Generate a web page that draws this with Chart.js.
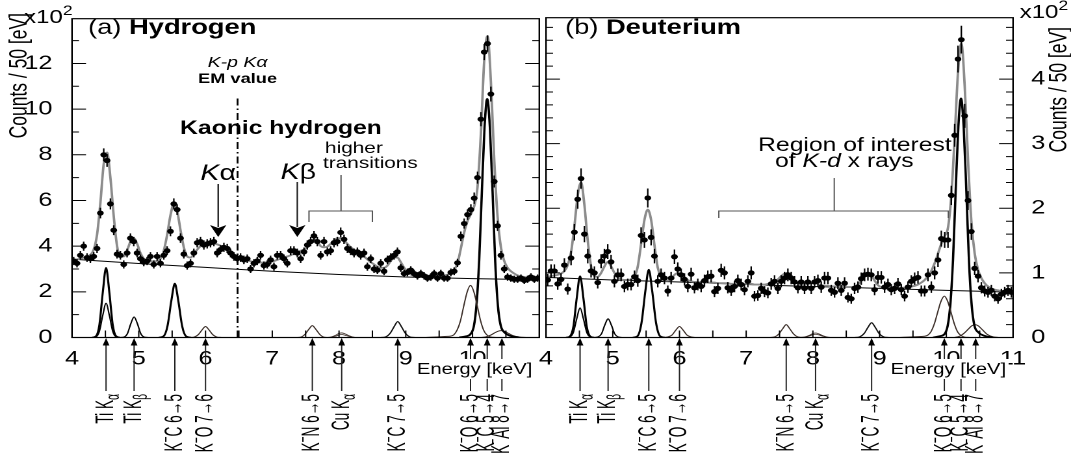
<!DOCTYPE html>
<html><head><meta charset="utf-8">
<script src="https://cdn.jsdelivr.net/npm/chart.js@4.4.1/dist/chart.umd.min.js"></script>
<style>
html,body{margin:0;padding:0;background:#fff;width:1071px;height:461px;overflow:hidden}
#wrap{position:relative;width:1071px;height:461px}
canvas{position:absolute;left:0;top:0;width:1071px !important;height:461px !important}
</style></head><body>
<div id="wrap"><canvas id="cH" width="824" height="461"></canvas><canvas id="cD" width="824" height="461"></canvas></div>
<script>
// ---------------- DATA ----------------
const binStart = 4.025, binWidth = 0.05;   // keV, 50 eV bins
const hydrogenCounts = [ // x10^2 counts / 50 eV
  3.35, 3.25, 3.6, 4.0, 3.5, 3.45, 3.55, 3.9, 5.45, 8.0,
  7.75, 5.85, 4.7, 3.65, 3.6, 3.2, 3.7, 4.35, 4.2, 3.7,
  3.45, 3.3, 3.35, 3.55, 3.2, 3.55, 3.25, 3.6, 3.8, 4.65,
  5.85, 5.6, 4.35, 3.65, 3.15, 3.25, 3.7, 4.15, 4.2, 4.05,
  4.1, 4.15, 4.2, 3.7, 3.85, 3.95, 3.9, 3.7, 3.55, 3.45,
  3.5, 3.4, 3.45, 3.0, 3.25, 3.35, 3.6, 3.15, 3.2, 3.4,
  3.1, 3.6, 3.6, 3.45, 3.25, 3.8, 3.8, 3.7, 3.45, 3.75,
  4.05, 4.2, 4.45, 4.2, 3.6, 4.2, 3.75, 3.8, 4.15, 4.2,
  4.6, 4.3, 3.9, 3.8, 3.7, 3.75, 3.6, 3.7, 3.1, 3.45,
  3.0, 2.95, 3.25, 2.9, 3.4, 3.5, 3.6, 3.75, 3.05, 2.8,
  2.85, 2.95, 2.8, 2.7, 2.8, 2.7, 2.6, 2.65, 2.8, 2.6,
  2.8, 2.6, 2.6, 2.85, 2.9, 3.27, 4.43, 4.99, 5.38, 5.6,
  6.1, 7.0, 9.56, 12.5, 12.87, 10.66, 6.83, 4.89, 3.6, 3.0,
  2.65, 2.6, 2.55, 2.55, 2.6, 2.5, 2.55, 2.65, 2.55, 2.6
];
const hydrogenFit = [
  3.4, 3.42, 3.45, 3.5, 3.55, 3.62, 3.85, 4.5, 5.9, 7.6,
  8.1, 7.0, 5.3, 4.0, 3.55, 3.55, 3.8, 4.2, 4.35, 4.1,
  3.7, 3.45, 3.35, 3.33, 3.33, 3.35, 3.45, 3.8, 4.5, 5.35,
  5.85, 5.55, 4.7, 3.95, 3.55, 3.5, 3.65, 3.85, 4.0, 4.1,
  4.15, 4.15, 4.12, 4.08, 4.02, 3.95, 3.85, 3.75, 3.65, 3.55,
  3.48, 3.42, 3.38, 3.34, 3.3, 3.28, 3.28, 3.28, 3.3, 3.32,
  3.35, 3.4, 3.45, 3.5, 3.55, 3.6, 3.68, 3.75, 3.8, 3.85,
  3.95, 4.15, 4.3, 4.2, 4.0, 3.95, 3.98, 4.1, 4.25, 4.35,
  4.35, 4.25, 4.1, 3.95, 3.85, 3.75, 3.65, 3.55, 3.42, 3.3,
  3.2, 3.1, 3.05, 3.05, 3.15, 3.35, 3.5, 3.5, 3.3, 3.05,
  2.88, 2.76, 2.7, 2.68, 2.66, 2.65, 2.65, 2.65, 2.66, 2.68,
  2.7, 2.72, 2.75, 2.82, 2.95, 3.25, 3.9, 4.6, 5.1, 5.4,
  5.75, 6.6, 8.9, 12.1, 13.2, 11.2, 7.8, 5.3, 3.95, 3.35,
  3.05, 2.9, 2.8, 2.72, 2.68, 2.65, 2.62, 2.6, 2.6, 2.6
];
const deuteriumCounts = [
  0.89, 1.03, 1.03, 0.83, 0.9, 1.12, 0.75, 1.23, 1.63, 2.14,
  2.46, 1.6, 1.26, 1.03, 1.0, 0.85, 1.18, 1.26, 1.33, 1.17,
  0.87, 0.97, 0.97, 0.79, 0.82, 0.82, 0.94, 0.88, 1.58, 1.51,
  2.16, 1.55, 1.26, 0.87, 0.97, 0.92, 0.72, 0.92, 1.25, 1.06,
  0.97, 0.9, 0.79, 0.98, 0.77, 0.82, 0.79, 0.88, 0.94, 0.95,
  0.71, 0.76, 1.04, 1.0, 0.77, 0.73, 0.79, 0.88, 0.82, 0.74,
  0.87, 1.0, 0.64, 0.65, 0.76, 0.71, 0.69, 0.83, 0.87, 0.76,
  0.87, 0.92, 0.97, 0.92, 0.86, 0.77, 0.86, 0.76, 0.86, 0.76,
  0.86, 0.88, 0.78, 0.92, 0.92, 0.73, 0.7, 0.84, 0.73, 0.84,
  0.62, 0.6, 0.76, 0.78, 0.91, 0.97, 0.98, 0.97, 0.74, 0.93,
  0.93, 0.78, 0.82, 0.74, 0.76, 0.83, 0.74, 0.64, 0.78, 0.87,
  0.91, 0.93, 0.72, 0.72, 0.97, 0.78, 1.0, 1.2, 1.53, 1.51,
  1.51, 2.2, 3.13, 4.31, 4.61, 3.43, 2.12, 1.64, 1.07, 0.95,
  0.77, 0.72, 0.7, 0.73, 0.64, 0.6, 0.67, 0.7, 0.73, 0.7
];
const deuteriumFit = [
  0.94, 0.95, 0.96, 0.97, 0.99, 1.03, 1.12, 1.32, 1.72, 2.2,
  2.4, 2.05, 1.5, 1.1, 0.95, 0.94, 1.0, 1.1, 1.17, 1.1,
  1.0, 0.93, 0.9, 0.89, 0.89, 0.9, 0.94, 1.1, 1.45, 1.82,
  1.98, 1.82, 1.43, 1.08, 0.93, 0.88, 0.88, 0.91, 0.97, 1.0,
  0.98, 0.93, 0.89, 0.87, 0.86, 0.86, 0.85, 0.85, 0.85, 0.85,
  0.85, 0.84, 0.84, 0.84, 0.84, 0.83, 0.83, 0.83, 0.83, 0.83,
  0.83, 0.83, 0.82, 0.82, 0.82, 0.82, 0.83, 0.84, 0.86, 0.9,
  0.95, 0.99, 1.0, 0.96, 0.89, 0.84, 0.82, 0.82, 0.83, 0.84,
  0.84, 0.83, 0.81, 0.8, 0.8, 0.79, 0.79, 0.79, 0.79, 0.78,
  0.78, 0.78, 0.79, 0.82, 0.88, 0.96, 1.0, 0.96, 0.88, 0.81,
  0.78, 0.77, 0.77, 0.77, 0.77, 0.77, 0.77, 0.77, 0.78, 0.79,
  0.8, 0.82, 0.85, 0.89, 0.95, 1.03, 1.15, 1.3, 1.45, 1.57,
  1.7, 2.2, 3.1, 4.1, 4.55, 3.9, 2.75, 1.8, 1.3, 1.05,
  0.92, 0.84, 0.79, 0.76, 0.74, 0.73, 0.72, 0.72, 0.71, 0.71
];
const backgroundEnergies = [4, 5, 6, 7, 8, 9, 10, 11];
const hydrogenBackground = [3.43, 3.24, 3.07, 2.9, 2.76, 2.65, 2.58, 2.53];
const deuteriumBackground = [0.93, 0.89, 0.86, 0.82, 0.79, 0.76, 0.73, 0.70];

// fitted line components [energy keV, x10^2 counts]
const hTiKaA = [[4.30,0],[4.36,0.06],[4.41,0.55],[4.46,1.95],[4.51,3.05],[4.56,1.95],[4.61,0.55],[4.66,0.06],[4.72,0]];
const hTiKaB = [[4.30,0],[4.36,0.03],[4.41,0.27],[4.46,0.96],[4.51,1.5],[4.56,0.96],[4.61,0.27],[4.66,0.03],[4.72,0]];
const hTiKb  = [[4.72,0],[4.78,0.02],[4.83,0.17],[4.88,0.6],[4.93,0.9],[4.98,0.6],[5.03,0.17],[5.08,0.02],[5.14,0]];
const hKC65  = [[5.30,0],[5.37,0.05],[5.43,0.5],[5.49,1.65],[5.54,2.36],[5.59,1.65],[5.65,0.5],[5.71,0.05],[5.78,0]];
const hKO76  = [[5.76,0],[5.83,0.02],[5.89,0.12],[5.95,0.34],[6.0,0.48],[6.05,0.34],[6.11,0.12],[6.17,0.02],[6.24,0]];
const hKN65  = [[7.36,0],[7.43,0.02],[7.49,0.14],[7.55,0.37],[7.6,0.52],[7.65,0.37],[7.71,0.14],[7.77,0.02],[7.84,0]];
const hCuKaA = [[7.80,0],[7.88,0.02],[7.95,0.1],[8.0,0.18],[8.04,0.2],[8.09,0.16],[8.15,0.08],[8.22,0.01],[8.28,0]];
const hCuKaB = [[7.80,0],[7.88,0.01],[7.95,0.06],[8.0,0.11],[8.04,0.13],[8.09,0.1],[8.15,0.05],[8.22,0.01],[8.28,0]];
const hKC75  = [[8.62,0],[8.70,0.03],[8.77,0.2],[8.83,0.5],[8.88,0.7],[8.93,0.5],[8.99,0.2],[9.06,0.03],[9.14,0]];
const hKO65  = [[9.3,0],[9.5,0.03],[9.62,0.05],[9.67,0.06],[9.72,0.12],[9.77,0.33],[9.82,0.74],[9.87,1.4],[9.92,2.0],[9.97,2.28],[10.02,2.0],[10.07,1.4],[10.12,0.74],[10.17,0.3],[10.22,0.1],[10.27,0.025],[10.35,0]];
const hKC54  = [[9.8,0],[9.9,0.05],[9.97,0.15],[10.02,0.5],[10.06,1.45],[10.1,3.4],[10.14,6.4],[10.18,9.2],[10.22,10.45],[10.26,9.2],[10.3,6.4],[10.34,3.3],[10.38,1.4],[10.42,0.55],[10.48,0.22],[10.56,0.08],[10.7,0]];
const hKAl87 = [[10.12,0],[10.2,0.03],[10.27,0.1],[10.33,0.2],[10.38,0.27],[10.43,0.3],[10.48,0.27],[10.54,0.18],[10.61,0.08],[10.7,0.02],[10.8,0]];

const dTiKaA = [[4.30,0],[4.36,0.02],[4.41,0.17],[4.46,0.61],[4.51,0.95],[4.56,0.61],[4.61,0.17],[4.66,0.02],[4.72,0]];
const dTiKaB = [[4.30,0],[4.36,0.01],[4.41,0.08],[4.46,0.29],[4.51,0.46],[4.56,0.29],[4.61,0.08],[4.66,0.01],[4.72,0]];
const dTiKb  = [[4.72,0],[4.78,0.01],[4.83,0.055],[4.88,0.19],[4.93,0.29],[4.98,0.19],[5.03,0.055],[5.08,0.01],[5.14,0]];
const dKC65  = [[5.30,0],[5.37,0.02],[5.43,0.22],[5.49,0.73],[5.54,1.05],[5.59,0.73],[5.65,0.22],[5.71,0.02],[5.78,0]];
const dKO76  = [[5.76,0],[5.83,0.01],[5.89,0.04],[5.95,0.12],[6.0,0.17],[6.05,0.12],[6.11,0.04],[6.17,0.01],[6.24,0]];
const dKN65  = [[7.36,0],[7.43,0.01],[7.49,0.055],[7.55,0.14],[7.6,0.2],[7.65,0.14],[7.71,0.055],[7.77,0.01],[7.84,0]];
const dCuKaA = [[7.80,0],[7.88,0.01],[7.95,0.035],[8.0,0.062],[8.04,0.07],[8.09,0.056],[8.15,0.028],[8.22,0.005],[8.28,0]];
const dCuKaB = [[7.80,0],[7.88,0.005],[7.95,0.025],[8.0,0.044],[8.04,0.05],[8.09,0.04],[8.15,0.02],[8.22,0.004],[8.28,0]];
const dKC75  = [[8.62,0],[8.70,0.01],[8.77,0.065],[8.83,0.165],[8.88,0.23],[8.93,0.165],[8.99,0.065],[9.06,0.01],[9.14,0]];
const dKO65  = [[9.3,0],[9.5,0.01],[9.62,0.015],[9.67,0.02],[9.72,0.035],[9.77,0.09],[9.82,0.21],[9.87,0.39],[9.92,0.56],[9.97,0.64],[10.02,0.56],[10.07,0.39],[10.12,0.21],[10.17,0.085],[10.22,0.03],[10.27,0.007],[10.35,0]];
const dKC54  = [[9.8,0],[9.9,0.02],[9.97,0.05],[10.02,0.18],[10.06,0.51],[10.1,1.2],[10.14,2.27],[10.18,3.26],[10.22,3.7],[10.26,3.26],[10.3,2.27],[10.34,1.17],[10.38,0.5],[10.42,0.19],[10.48,0.08],[10.56,0.03],[10.7,0]];
const dKAl87 = [[10.12,0],[10.2,0.02],[10.27,0.07],[10.33,0.13],[10.38,0.18],[10.43,0.2],[10.48,0.18],[10.54,0.12],[10.61,0.05],[10.7,0.01],[10.8,0]];

const hydrogenComponents  = [hTiKaA, hTiKaB, hTiKb, hKC65, hKO76, hKN65, hCuKaA, hCuKaB, hKC75, hKO65, hKC54, hKAl87];
const deuteriumComponents = [dTiKaA, dTiKaB, dTiKb, dKC65, dKO76, dKN65, dCuKaA, dCuKaB, dKC75, dKO65, dKC54, dKAl87];

// transition markers below the axis
const transitionLabels   = ['Ti K_α', 'Ti K_β', 'K^−C 6→5', 'K^−O 7→6', 'K^−N 6→5', 'Cu K_α', 'K^−C 7→5', 'K^−O 6→5', 'K^−C 5→4', 'K^−Al 8→7'];
const transitionEnergies = [4.51, 4.93, 5.54, 6.0, 7.6, 8.04, 8.88, 9.97, 10.22, 10.44];

const emEnergy = 6.48;           // K-p K-alpha EM value (keV)
const hydrogenYTicks = [0, 2, 4, 6, 8, 10, 12];
const hydrogenYMinor = [1, 3, 5, 7, 9, 11, 13];
const deuteriumYTicks = [0, 1, 2, 3, 4];
const deuteriumYMinor = [0.2,0.4,0.6,0.8,1.2,1.4,1.6,1.8,2.2,2.4,2.6,2.8,3.2,3.4,3.6,3.8,4.2,4.4,4.6,4.8];
const hydrogenXTicks = [4, 5, 6, 7, 8, 9, 10];
const deuteriumXTicks = [4, 5, 6, 7, 8, 9, 10, 11];
const xTickMarks = [4.5, 5, 5.5, 6, 6.5, 7, 7.5, 8, 8.5, 9, 9.5, 10, 10.5];

// ---------------- RENDERING ----------------
const S = 1071 / 824;   // horizontal stretch of the page
const FAMQ = '"Liberation Sans", Arial, Helvetica, sans-serif';
const fnt = (size, style) => (style ? style + ' ' : '') + size + 'px ' + FAMQ;
const energies = hydrogenCounts.map((_, i) => +(binStart + i * binWidth).toFixed(3));

const componentWidths = [1.6, 1.1, 1.1, 1.6, 1, 1, 0.8, 0.8, 1.1, 1, 1.8, 1];
const componentColors = ['#000','#000','#000','#000','#3b2e28','#3b2e28','#3b2e28','#3b2e28','#111','#3b2e28','#000','#3b2e28'];

function drawRich(ctx, segs, x, y, align) {
  let w = 0;
  segs.forEach(s => { ctx.font = s.f; w += ctx.measureText(s.t).width; });
  let cx = align === 'center' ? x - w / 2 : (align === 'right' ? x - w : x);
  ctx.textAlign = 'left';
  segs.forEach(s => { ctx.font = s.f; ctx.fillText(s.t, cx, y + (s.dy || 0)); cx += ctx.measureText(s.t).width; });
  return w;
}
function parseLabel(str, size) {
  const segs = []; let buf = '';
  for (let i = 0; i < str.length; i++) {
    const c = str[i];
    if ((c === '_' || c === '^') && i + 1 < str.length) {
      if (buf) { segs.push({t: buf, f: fnt(size)}); buf = ''; }
      segs.push({t: str[i + 1], f: fnt(size * 0.75), dy: c === '_' ? size * 0.3 : -size * 0.32});
      i++;
    } else buf += c;
  }
  if (buf) segs.push({t: buf, f: fnt(size)});
  return segs;
}
function arrowDown(ctx, x, y1, tip) {
  const hh = 12, hw = 6.3;
  ctx.beginPath(); ctx.moveTo(x, y1); ctx.lineTo(x, tip - hh + 2); ctx.lineWidth = 1.2; ctx.stroke();
  ctx.beginPath(); ctx.moveTo(x - hw, tip - hh); ctx.lineTo(x, tip - hh + 3); ctx.lineTo(x + hw, tip - hh); ctx.lineTo(x, tip); ctx.closePath(); ctx.fill();
}
function bracket(ctx, x1, x2, xc, yh, yEnd, yTop) {
  ctx.save(); ctx.beginPath();
  ctx.moveTo(x1, yEnd); ctx.lineTo(x1, yh); ctx.lineTo(x2, yh); ctx.lineTo(x2, yEnd);
  ctx.moveTo(xc, yh); ctx.lineTo(xc, yTop);
  ctx.lineWidth = 1; ctx.strokeStyle = '#555'; ctx.stroke(); ctx.restore();
}

function panelPlugin(P) {
  return {
    id: 'panel' + P.key,
    afterDatasetsDraw(chart) {
      const ctx = chart.ctx, a = chart.chartArea, xs = chart.scales.x, ys = chart.scales.y;
      ctx.save();
      // error bars (Poisson)
      ctx.beginPath(); ctx.rect(a.left, a.top, a.right - a.left, a.bottom - a.top); ctx.clip();
      ctx.strokeStyle = '#000'; ctx.lineWidth = 1.15;
      const meta = chart.getDatasetMeta(0);
      ctx.beginPath();
      meta.data.forEach((pt, i) => {
        const v = P.counts[i], err = Math.sqrt(v) / 10;
        ctx.moveTo(pt.x, ys.getPixelForValue(v - err)); ctx.lineTo(pt.x, ys.getPixelForValue(v + err));
      });
      ctx.stroke();
      ctx.restore();
      ctx.save();
      ctx.strokeStyle = '#000'; ctx.lineWidth = 1.2;
      ctx.strokeRect(a.left, a.top, a.right - a.left, a.bottom - a.top);
      ctx.lineWidth = 1;
      ctx.beginPath();
      const ML = 14 / S, mL = 7 / S;
      P.yTicks.forEach(v => { const y = ys.getPixelForValue(v); ctx.moveTo(a.left, y); ctx.lineTo(a.left + ML, y); ctx.moveTo(a.right, y); ctx.lineTo(a.right - ML, y); });
      P.yMinor.forEach(v => { const y = ys.getPixelForValue(v); ctx.moveTo(a.left, y); ctx.lineTo(a.left + mL, y); ctx.moveTo(a.right, y); ctx.lineTo(a.right - mL, y); });
      xTickMarks.forEach(e => { const x = xs.getPixelForValue(e); ctx.moveTo(x, a.bottom); ctx.lineTo(x, a.bottom - 7); });
      ctx.stroke();
      ctx.restore();
    },
    afterDraw(chart) {
      const ctx = chart.ctx, a = chart.chartArea, xs = chart.scales.x, ys = chart.scales.y;
      const X = e => xs.getPixelForValue(e), Y = v => ys.getPixelForValue(v);
      ctx.save();
      ctx.fillStyle = '#000'; ctx.strokeStyle = '#000'; ctx.textBaseline = 'alphabetic';
      // transition arrows + rotated labels
      transitionEnergies.forEach((e, i) => {
        const x = X(e);
        ctx.beginPath(); ctx.moveTo(x, a.bottom + 6); ctx.lineTo(x, 391); ctx.lineWidth = 1; ctx.strokeStyle = '#222'; ctx.stroke();
        ctx.beginPath(); ctx.moveTo(x, a.bottom + 0.5); ctx.lineTo(x - 2.6, a.bottom + 8); ctx.lineTo(x + 2.6, a.bottom + 8); ctx.closePath(); ctx.fill();
        ctx.save(); ctx.translate(x, 394); ctx.rotate(-Math.PI / 2); ctx.scale(0.7, 1); ctx.textBaseline = 'middle';
        drawRich(ctx, parseLabel(transitionLabels[i], 19.5), 0, 0, 'right');
        ctx.restore();
      });
      // Energy label with white box
      ctx.textBaseline = 'middle';
      ctx.font = fnt(15.5);
      const eTxt = 'Energy [keV]', ew = ctx.measureText(eTxt).width, ex = a.right - 7 / S;
      ctx.fillStyle = '#fff'; ctx.fillRect(ex - ew - 2, 359, ew + 4, 20);
      ctx.fillStyle = '#000'; ctx.textAlign = 'right'; ctx.fillText(eTxt, ex, 369.5);
      ctx.textBaseline = 'alphabetic';
      // axis title and scale factor
      ctx.save(); ctx.translate(P.titleX, P.titleTop); ctx.rotate(-Math.PI / 2); ctx.scale(0.92, 1); ctx.textBaseline = 'middle';
      drawRich(ctx, [{t: 'Counts / 50 [eV]', f: fnt(19)}], 0, 0, 'right'); ctx.restore();
      drawRich(ctx, [{t: 'x10', f: fnt(18.5)}, {t: '2', f: fnt(13.5), dy: -8}], P.expX, P.expY, 'left');
      P.annotate(ctx, X, Y);
      ctx.restore();
    }
  };
}

function annotateHydrogen(ctx, X, Y) {
  drawRich(ctx, [{t: '(a) ', f: fnt(21)}, {t: 'Hydrogen', f: fnt(21, 'bold')}], X(4.24), 34, 'left');
  drawRich(ctx, [{t: 'K-p K', f: fnt(15, 'italic')}, {t: 'α', f: fnt(15, 'italic')}], X(emEnergy), 67, 'center');
  drawRich(ctx, [{t: 'EM value', f: fnt(14, 'bold')}], X(emEnergy), 83, 'center');
  drawRich(ctx, [{t: 'Kaonic hydrogen', f: fnt(19, 'bold')}], X(7.13), 134, 'center');
  drawRich(ctx, [{t: 'K', f: fnt(22, 'italic')}, {t: 'α', f: fnt(22)}], X(6.19), 180, 'center');
  drawRich(ctx, [{t: 'K', f: fnt(22, 'italic')}, {t: 'β', f: fnt(22)}], X(7.39), 179, 'center');
  drawRich(ctx, [{t: 'higher', f: fnt(16)}], X(7.79), 153, 'left');
  drawRich(ctx, [{t: 'transitions', f: fnt(16)}], X(7.76), 168, 'left');
  arrowDown(ctx, X(6.19), 184, Y(4.4));
  arrowDown(ctx, X(7.375), 182, Y(4.4));
  bracket(ctx, X(7.55), X(8.5), X(8.03), 211, 222, 175);
}
function annotateDeuterium(ctx, X, Y) {
  drawRich(ctx, [{t: '(b) ', f: fnt(21)}, {t: 'Deuterium', f: fnt(21, 'bold')}], X(4.285), 34, 'left');
  drawRich(ctx, [{t: 'Region of interest', f: fnt(19)}], X(8.63), 151, 'center');
  drawRich(ctx, [{t: 'of ', f: fnt(19)}, {t: 'K-d', f: fnt(19, 'italic')}, {t: ' x rays', f: fnt(19)}], X(8.47), 167, 'center');
  bracket(ctx, X(6.59), X(10.03), X(8.32), 211, 218, 178);
}

function buildChart(canvasId, P) {
  const datasets = [
    {data: P.counts.map((v, i) => ({x: energies[i], y: v})), showLine: false, pointRadius: 2.6,
     pointBackgroundColor: '#000', pointBorderWidth: 0, borderColor: '#000'},
    {data: P.fit.map((v, i) => ({x: energies[i], y: v})), borderColor: '#8c8c8c', borderWidth: 1.9,
     pointRadius: 0, cubicInterpolationMode: 'monotone'},
    {data: backgroundEnergies.map((e, i) => ({x: e, y: P.bg[i]})), borderColor: '#000', borderWidth: 1,
     pointRadius: 0, cubicInterpolationMode: 'monotone'}
  ];
  P.components.forEach((c, i) => datasets.push({
    data: c.map(([x, y]) => ({x, y})), borderColor: componentColors[i], borderWidth: componentWidths[i],
    pointRadius: 0, cubicInterpolationMode: 'monotone'}));
  if (P.em) datasets.push({data: [{x: emEnergy, y: 0}, {x: emEnergy, y: 10.59}], borderColor: '#000',
    borderWidth: 1.4, borderDash: [7, 3, 1.5, 3], pointRadius: 0});
  return new Chart(document.getElementById(canvasId), {
    type: 'line',
    data: {datasets},
    options: {
      responsive: false, animation: false, devicePixelRatio: 2, events: [],
      layout: {padding: P.padding},
      plugins: {legend: {display: false}, tooltip: {enabled: false}},
      scales: {
        x: {type: 'linear', min: 4, max: 11, grid: {display: false}, border: {display: false},
            afterBuildTicks: s => { s.ticks = P.xTicks.map(v => ({value: v})); },
            afterFit: s => { s.height = 123.5; },
            ticks: {autoSkip: false, maxRotation: 0, minRotation: 0, padding: 2, color: '#000',
                    font: {family: FAMQ, size: 19.5}, callback: v => String(v)}},
        y: {type: 'linear', position: P.yPos, min: 0, max: P.yMax, grid: {display: false}, border: {display: false},
            afterBuildTicks: s => { s.ticks = P.yTicks.map(v => ({value: v})); },
            afterFit: s => { s.width = P.yWidth; },
            ticks: {padding: P.yPad, color: '#000', font: {family: FAMQ, size: 19.5}, callback: v => String(v)}}
      }
    },
    plugins: [panelPlugin(P)]
  });
}

buildChart('cH', {
  key: 'H', counts: hydrogenCounts, fit: hydrogenFit, bg: hydrogenBackground, components: hydrogenComponents,
  yMax: 13.96, yTicks: hydrogenYTicks, yMinor: hydrogenYMinor, xTicks: hydrogenXTicks, yPos: 'left',
  padding: {left: 0, right: 824 - 414.9, top: 7, bottom: 0}, yWidth: 55.4, yPad: 7, em: true,
  titleX: 15.4, titleTop: 13, expX: 18.5, expY: 23, annotate: annotateHydrogen
});
buildChart('cD', {
  key: 'D', counts: deuteriumCounts, fit: deuteriumFit, bg: deuteriumBackground, components: deuteriumComponents,
  yMax: 4.95, yTicks: deuteriumYTicks, yMinor: deuteriumYMinor, xTicks: deuteriumXTicks, yPos: 'right',
  padding: {left: 420.1, right: 0, top: 7, bottom: 0}, yWidth: 824 - 779.4, yPad: 6, em: false,
  titleX: 815.5, titleTop: 27, expX: 784.5, expY: 18, annotate: annotateDeuterium
});
</script>
</body></html>
